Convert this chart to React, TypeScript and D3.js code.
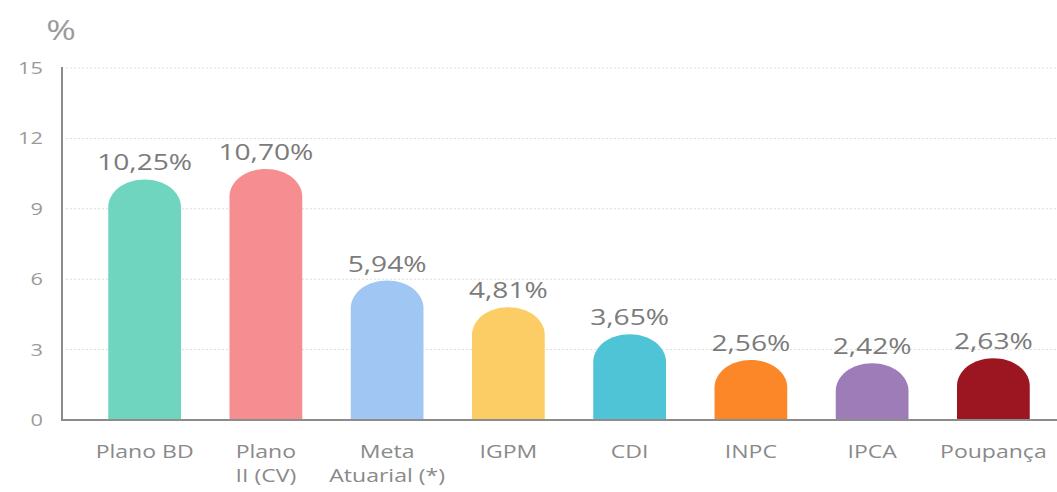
import * as d3 from "d3"

// chart data
const categories = ["Plano BD", "Plano\nII (CV)", "Meta\nAtuarial (*)", "IGPM", "CDI", "INPC", "IPCA", "Poupança"]
const values = [10.25, 10.7, 5.94, 4.81, 3.65, 2.56, 2.42, 2.63]
const valueLabels = ["10,25%", "10,70%", "5,94%", "4,81%", "3,65%", "2,56%", "2,42%", "2,63%"]
const colors = ["#6fd5bf", "#f68d90", "#a0c7f4", "#fdcd65", "#4fc4d7", "#fb8729", "#9d7cb8", "#9b1621"]
const yTicks = [0, 3, 6, 9, 12, 15]

const W = 1057
const H = 492
const FONT = "'Open Sans', sans-serif"
const SX = 1.28 // the source text is stretched horizontally

export default function App() {
  const margin = { top: 68, right: 3, bottom: 72, left: 62 }
  const baseY = H - margin.bottom

  const x = d3.scaleBand<number>()
    .domain(d3.range(categories.length))
    .range([84, 1054])
    .paddingInner(0.4)
    .paddingOuter(0.2)

  const y = d3.scaleLinear()
    .domain([0, 15])
    .range([baseY, margin.top])

  const bw = x.bandwidth()
  const capRy = bw * 0.38

  const barPath = (i: number) => {
    const x0 = x(i)!
    const x1 = x0 + bw
    const top = y(values[i])
    const p = d3.path()
    p.moveTo(x0, baseY)
    p.lineTo(x0, top + capRy)
    // elliptical top cap
    p.bezierCurveTo(x0, top + capRy * 0.45, x0 + bw * 0.22, top, x0 + bw / 2, top)
    p.bezierCurveTo(x1 - bw * 0.22, top, x1, top + capRy * 0.45, x1, top + capRy)
    p.lineTo(x1, baseY)
    p.closePath()
    return p.toString()
  }

  return (
    <svg width={W} height={H} style={{ position: "absolute", left: 0, top: 0, background: "#fff" }}
      fontFamily={FONT}>
      {/* grid */}
      {yTicks.filter(t => t > 0).map(t => (
        <line key={t} x1={margin.left + 4} x2={W} y1={y(t)} y2={y(t)}
          stroke="#dcdcdc" strokeWidth={1} strokeDasharray="2,2" />
      ))}

      {/* y tick labels */}
      {yTicks.map(t => (
        <text key={t} transform={`translate(43,${y(t) + 6}) scale(${SX},1)`}
          textAnchor="end" fontSize={17} fill="#9a9a9a">{t}</text>
      ))}
      <text transform={`translate(61,40) scale(${SX},1)`} textAnchor="middle"
        fontSize={28} fill="#9a9a9a">%</text>

      {/* bars */}
      {values.map((v, i) => (
        <path key={i} d={barPath(i)} fill={colors[i]} />
      ))}

      {/* value labels */}
      {values.map((v, i) => (
        <text key={i} transform={`translate(${x(i)! + bw / 2},${y(v) - 9}) scale(${SX},1)`}
          textAnchor="middle" fontSize={22} fill="#7b7b7b">{valueLabels[i]}</text>
      ))}

      {/* axes */}
      <line x1={margin.left} x2={margin.left} y1={margin.top - 1} y2={baseY + 1} stroke="#8c8c8c" strokeWidth={2} />
      <line x1={margin.left} x2={W} y1={baseY} y2={baseY} stroke="#8c8c8c" strokeWidth={2} />

      {/* category labels */}
      {categories.map((c, i) => (
        <g key={i}>
          {c.split("\n").map((line, j) => (
            <text key={j} transform={`translate(${x(i)! + bw / 2},${baseY + 38 + j * 24}) scale(${SX},1)`}
              textAnchor="middle" fontSize={18} fill="#8a8a8a">{line}</text>
          ))}
        </g>
      ))}
    </svg>
  )
}
